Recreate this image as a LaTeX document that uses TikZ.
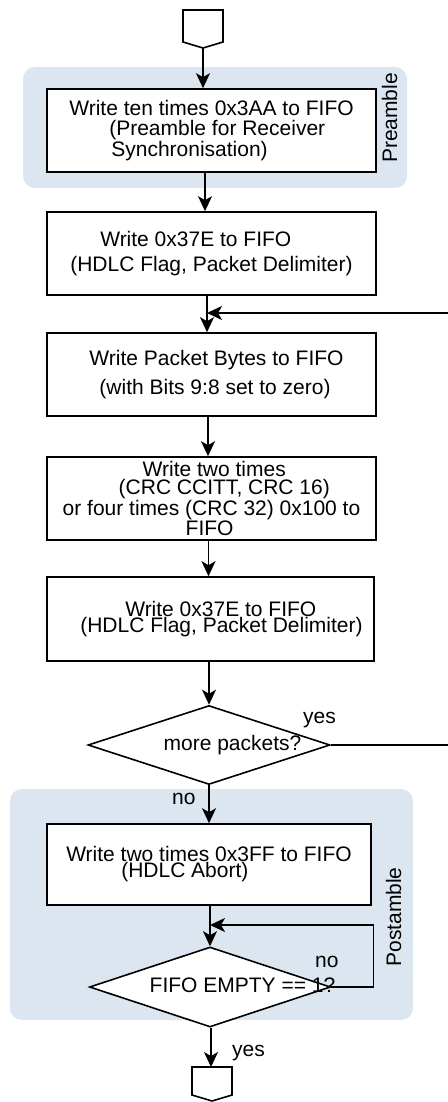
\documentclass[tikz,border=0pt]{standalone}
\usepackage{fontspec}
\setmainfont{Liberation Sans}
\usetikzlibrary{arrows.meta,shapes.geometric}
\definecolor{bandblue}{RGB}{220,230,240}
\tikzset{
  band/.style={fill=bandblue,draw=none,rounded corners=12pt,inner sep=0pt},
  stepbox/.style={draw=black,line width=1.6pt,fill=white,inner sep=0pt,align=left},
  decide/.style={draw=black,line width=1.6pt,fill=white,diamond,inner sep=0pt},
  arr/.style={-{Stealth[length=15pt,width=14pt,inset=4pt]},line width=1.6pt},
  plain/.style={line width=1.6pt},
  term/.style={draw=black,line width=1.6pt,fill=white},
  lbl/.style={inner sep=0pt,anchor=base west},
}
\begin{document}
\begin{tikzpicture}[x=1pt,y=-1pt,font=\fontsize{21}{17}\selectfont]
\useasboundingbox (0,0) rectangle (447,1102);

% group backgrounds
\node[band,minimum width=384pt,minimum height=121pt] (pre) at (215,127.5) {};
\node[band,minimum width=403pt,minimum height=231pt] (post) at (211.5,904.5) {};
\node[rotate=90,inner sep=0pt] (pret) at (389.5,118) {Preamble};
\node[rotate=90,inner sep=0pt] (postt) at (393.5,917) {Postamble};

% start / end connectors
\draw[term] (183,10) -- (223,10) -- (223,42) -- (203,48) -- (183,42) -- cycle;
\coordinate (st) at (203,48);
\draw[term] (192,1067) -- (232,1067) -- (232,1095) -- (212,1101) -- (192,1095) -- cycle;
\coordinate (en) at (211,1067);

% process boxes
\node[stepbox,minimum width=329pt,minimum height=83pt] (b1) at (211.5,130.5)
 {Write ten times 0x3AA to FIFO\\[3pt]\hspace*{40pt}(Preamble for Receiver\\\hspace*{42pt}Synchronisation)};
\node[stepbox,minimum width=329pt,minimum height=83pt] (b2) at (211.5,253.5)
 {\hspace*{30pt}Write 0x37E to FIFO\\[8pt](HDLC Flag, Packet Delimiter)};
\node[stepbox,minimum width=329pt,minimum height=83pt] (b3) at (211.5,374.5)
 {\hspace*{10pt}Write Packet Bytes to FIFO\\[8pt]\hspace*{20pt}(with Bits 9:8 set to zero)};
\node[stepbox,minimum width=329pt,minimum height=83pt] (b4) at (211.5,498.5)
 {\hspace*{80pt}Write two times\\[0.5pt]\hspace*{56pt}(CRC CCITT, CRC 16)\\[0.5pt]or four times (CRC 32) 0x100 to\\\hspace*{123pt}FIFO};
\node[stepbox,minimum width=327pt,minimum height=84pt] (b5) at (210.5,619)
 {\hspace*{67pt}Write 0x37E to FIFO\\[-1pt]\hspace*{22pt}(HDLC Flag, Packet Delimiter)};
\node[decide,minimum width=242pt,minimum height=79pt] (d1) at (209,745)
 {\makebox[0pt]{\hspace*{47pt}more packets?}};
\node[stepbox,minimum width=324pt,minimum height=81pt] (b6) at (209,864.5)
 {Write two times 0x3FF to FIFO\\[-1pt]\hspace*{55pt}(HDLC Abort)};
\node[decide,minimum width=241pt,minimum height=80pt] (d2) at (210,987)
 {\makebox[0pt]{\hspace*{65pt}\raisebox{3pt}{FIFO EMPTY == 1?}}};

% junction points of the loops
\coordinate (j1) at (207,313);
\coordinate (j2) at (210,925);

% connectors
\draw[arr] (st) -- ([xshift=-8.5pt]b1.north);
\draw[arr] ([xshift=-6.5pt]b1.south) -- ([xshift=-6.5pt]b2.north);
\draw[arr] ([xshift=-4.5pt]b2.south) -- ([xshift=-4.5pt]b3.north);
\draw[arr] ([xshift=-3.5pt]b3.south) -- ([xshift=-3.5pt]b4.north);
\draw[arr] ([xshift=-3pt]b4.south) -- ([xshift=-2pt]b5.north);
\draw[arr] ([xshift=-1.5pt]b5.south) -- (d1.north);
\draw[arr] (d1.south) -- (b6.north);
\draw[arr] ([xshift=1pt]b6.south) -- (d2.north);
\draw[arr] ([xshift=1pt]d2.south) -- (en);
\draw[arr] (d1.east) -- ++(118,0) |- (j1);
\draw[arr] (d2.east) -- ++(42,0) |- (j2);

% branch labels
\node[lbl] (yes1) at (303,723.3) {yes};
\node[lbl] (no1) at (172,804) {no};
\node[lbl] (no2) at (315,967.7) {no};
\node[lbl] (yes2) at (232,1056.7) {yes};
\end{tikzpicture}
\end{document}
